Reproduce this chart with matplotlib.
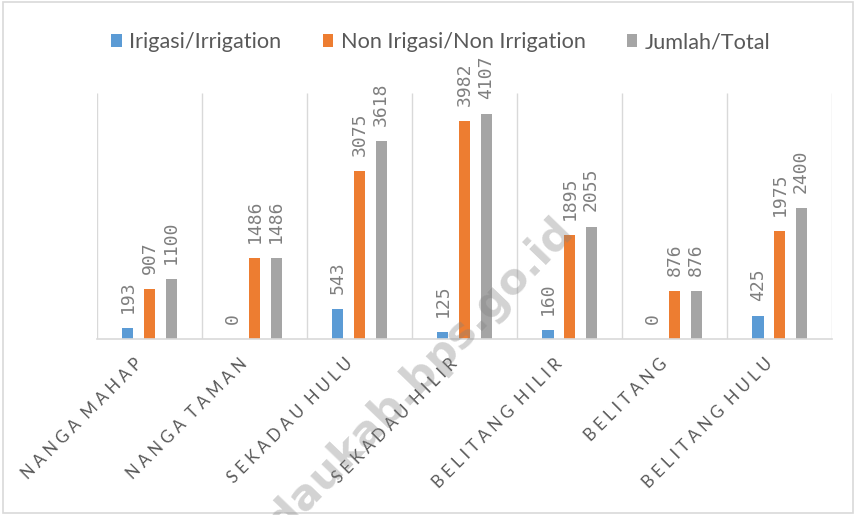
import numpy as np
import matplotlib
matplotlib.use('Agg')
import matplotlib.pyplot as plt
import matplotlib.transforms as mtransforms
from matplotlib.patches import Rectangle

# data
kecamatan = ['NANGA MAHAP', 'NANGA TAMAN', 'SEKADAU HULU', 'SEKADAU HILIR',
             'BELITANG HILIR', 'BELITANG', 'BELITANG HULU']
irigasi = [193, 0, 543, 125, 160, 0, 425]
non_irigasi = [907, 1486, 3075, 3982, 1895, 876, 1975]
jumlah = [1100, 1486, 3618, 4107, 2055, 876, 2400]

series_names = ['Irigasi/Irrigation', 'Non Irigasi/Non Irrigation', 'Jumlah/Total']
colors = ['#5B9BD5', '#ED7D31', '#A5A5A5']
text_col = '#595959'
grid_col = '#D9D9D9'

fig = plt.figure(figsize=(8.56, 5.15), dpi=100)
ax = fig.add_axes([0.1133, 0.3417, 0.8587, 0.4777])

x = np.arange(len(kecamatan))
offsets = [-0.205, 0, 0.205]
width = 0.105
handles = []
for vals, off, col, name in zip([irigasi, non_irigasi, jumlah], offsets, colors, series_names):
    bars = ax.bar(x + off, vals, width, color=col, label=name, zorder=2)
    handles.append(bars)
    for xi, v in zip(x + off, vals):
        ax.annotate(str(v), (xi, v), xytext=(0, 11), textcoords='offset points',
                    rotation=90, ha='center', va='bottom', fontsize=13,
                    family='DejaVu Sans Mono', color='#7F7F7F')

ax.set_xlim(-0.5, len(kecamatan) - 0.5)
ax.set_ylim(0, 4500)
ax.set_yticks([])
for s in ['top', 'left', 'right']:
    ax.spines[s].set_visible(False)
ax.spines['bottom'].set_color(grid_col)
ax.spines['bottom'].set_linewidth(1.2)
ax.vlines(np.arange(len(kecamatan) + 1) - 0.5, 0, 4500, colors=grid_col, linewidth=1, zorder=1)

# letter-spaced category labels
labels = ['  '.join(' '.join(part) for part in k.split(' ')) for k in kecamatan]
ax.set_xticks(x)
ax.set_xticklabels(labels, rotation=45, ha='right', va='center', rotation_mode='anchor',
                   fontsize=12, color=text_col, family='Lato')
ax.tick_params(axis='x', length=0, pad=16)
shift = mtransforms.ScaledTranslation(-7 / 72, 0, fig.dpi_scale_trans)
for lbl in ax.get_xticklabels():
    lbl.set_transform(lbl.get_transform() + shift)

fig.legend(handles=handles, labels=series_names, loc='center', bbox_to_anchor=(0.515, 0.918),
           ncol=3, frameon=False, handlelength=0.5, handleheight=0.5, handletextpad=0.33,
           columnspacing=1.9, prop={'family': 'Lato', 'size': 15.6}, labelcolor=text_col)

# watermark
fig.text(552 / 856, 1 - 210 / 515, 'sekadaukab.bps.go.id', rotation=46, rotation_mode='anchor',
         ha='right', va='top', fontsize=31, fontweight='bold', color='#808080', alpha=0.35,
         family='DejaVu Sans', zorder=10)

# outer border
fig.patches.append(Rectangle((0.004, 0.004), 0.992, 0.992, transform=fig.transFigure,
                             fill=False, edgecolor=grid_col, linewidth=1.2))

fig.savefig('out.png', dpi=100)
